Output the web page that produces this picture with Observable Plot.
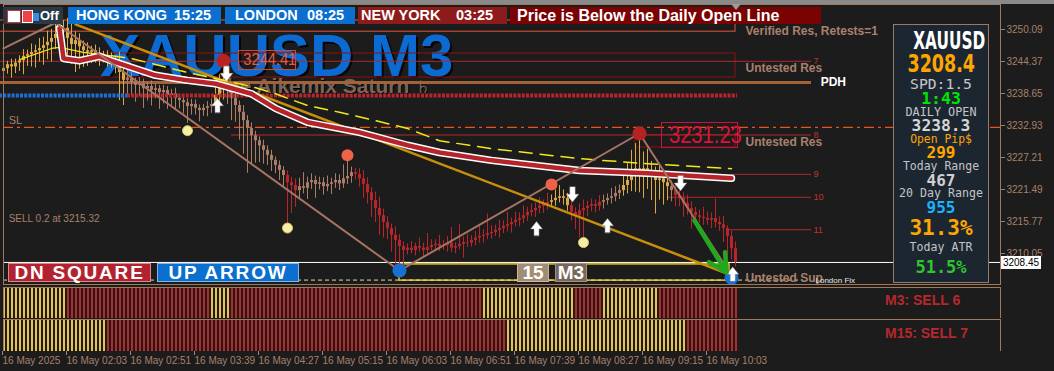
<!DOCTYPE html>
<html><head><meta charset="utf-8">
<script src="https://cdn.jsdelivr.net/npm/d3@7"></script>
<script src="https://cdn.jsdelivr.net/npm/@observablehq/plot@0.6"></script>
<style>
html,body{margin:0;padding:0;background:#1c1c1c;}
#wrap{position:relative;width:1054px;height:371px;background:#1c1c1c;overflow:hidden;font-family:"Liberation Sans",Arial,sans-serif;}
.o{position:absolute;white-space:pre;box-sizing:border-box;}
.sx{display:inline-block;transform-origin:center;}
</style></head><body><div id="wrap"></div><script>
// ---------------- DATA ----------------
const closes = [
3243.1,3243.8,3243.4,3244.1,3244.5,3245.3,3245.6,3246.0,3246.3,3246.7,
3247.2,3247.8,3248.5,3249.2,3249.9,3250.3,3248.5,3247.4,3248.1,3247.0,
3246.3,3246.0,3246.3,3245.6,3245.3,3245.4,3244.9,3244.2,3244.5,3242.4,
3241.0,3241.4,3240.6,3240.1,3240.3,3239.5,3239.9,3239.2,3239.5,3238.8,
3239.2,3238.3,3238.6,3237.8,3237.4,3237.0,3236.3,3236.7,3236.0,3235.6,
3236.0,3236.3,3236.7,3238.3,3239.5,3240.6,3239.2,3237.8,3236.5,3235.3,
3233.8,3232.4,3231.1,3230.2,3229.3,3228.5,3227.6,3226.7,3225.8,3224.9,
3224.0,3222.7,3222.2,3221.3,3222.0,3221.7,3222.7,3223.1,3222.4,3222.7,
3222.0,3222.4,3222.7,3223.1,3222.5,3223.4,3223.8,3224.5,3224.2,3223.4,
3222.4,3220.9,3219.5,3218.1,3216.8,3215.6,3214.5,3213.3,3212.4,3211.3,
3210.6,3211.0,3210.6,3211.3,3211.0,3210.6,3211.1,3211.5,3211.7,3211.3,
3211.5,3211.9,3211.0,3211.3,3211.7,3212.0,3211.9,3212.4,3212.8,3213.1,
3213.3,3213.6,3213.8,3214.2,3214.5,3214.9,3215.2,3215.6,3216.0,3216.3,
3216.8,3217.4,3217.7,3218.1,3218.5,3218.8,3219.2,3219.5,3219.9,3220.2,
3219.9,3218.6,3217.4,3216.8,3217.7,3218.1,3218.5,3218.8,3218.5,3219.2,
3219.5,3219.9,3220.2,3220.8,3221.3,3222.2,3223.1,3224.5,3225.2,3224.9,
3225.2,3224.5,3224.0,3223.1,3223.4,3222.7,3222.0,3221.3,3220.4,3219.9,
3219.0,3218.1,3217.4,3216.8,3216.5,3216.3,3216.0,3216.3,3215.6,3215.2,
3214.5,3213.1,3210.9,3208.45
];
const firstOpen = 3242.6;
const upWick = [
0.8,0.6,1.0,0.7,0.9,1.2,0.8,1.5,1.0,1.8,1.5,2.0,1.6,1.8,1.6,1.4,1.8,2.5,1.6,1.2,1.0,1.4,0.8,1.0,1.2,0.8,0.9,1.0,0.8,1.5,2.0,
2.5,1.0,0.8,1.2,0.9,0.7,1.0,0.8,0.6,0.9,0.7,0.8,1.0,0.6,0.8,0.7,0.9,0.8,0.6,0.7,0.9,1.0,
1.5,2.5,4.0,
2.0,1.5,1.0,0.8,1.2,0.9,1.0,0.8,0.7,1.0,0.8,0.9,0.6,0.8,0.7,
0.8,1.0,1.2,
1.5,2.5,1.0,1.2,0.8,1.0,0.9,1.5,0.8,1.2,1.0,2.5,2.9,1.0,
0.8,1.0,1.5,1.2,0.9,1.5,2.0,1.2,1.0,0.8,1.5,1.0,0.8,
0.8,1.2,0.6,1.5,0.9,2.5,1.0,0.8,1.6,0.9,1.2,2.8,0.7,3.5,1.0,1.5,0.8,1.2,2.0,1.0,3.5,1.2,0.9,1.5,1.0,2.2,0.8,1.4,1.0,1.8,0.9,1.2,1.0,1.5,0.8,1.6,
1.0,1.5,2.0,1.2,0.9,
1.0,0.8,1.2,1.5,0.9,1.0,0.8,1.2,
1.0,0.8,1.5,1.2,1.0,
2.0,3.0,4.0,4.5,6.0,3.0,3.5,2.0,1.5,2.5,1.5,1.0,
1.0,
1.2,0.8,1.0,1.5,1.2,0.9,1.0,1.8,1.2,1.0,3.5,1.0,1.5,0.5,1.0,1.2
];
const dnWick = [
1.5,1.0,2.0,1.2,1.5,2.5,1.8,2.2,2.8,2.0,3.0,2.5,3.5,2.0,2.5,2.8,4.5,3.5,5.0,4.0,3.0,2.5,2.0,1.5,1.8,1.2,1.5,1.0,2.0,5.0,4.5,
3.0,2.5,3.0,2.0,3.5,2.2,2.8,1.5,3.0,2.0,2.5,1.8,2.2,1.5,2.0,3.0,1.5,1.2,2.0,1.0,1.5,1.2,
1.0,1.5,2.0,
2.5,4.0,3.0,5.0,6.0,8.0,5.0,4.0,3.0,2.5,1.8,2.0,1.5,1.8,2.0,
7.4,5.0,3.0,
1.5,1.0,2.0,1.2,2.5,1.0,1.5,0.9,1.8,1.0,1.2,0.8,1.0,1.2,
1.0,1.5,2.5,2.0,3.0,2.5,3.5,2.8,2.0,3.0,4.5,4.0,3.2,
0.8,0.6,1.0,0.7,1.2,0.8,0.6,1.0,0.9,0.7,1.2,0.8,1.0,0.6,2.5,0.8,0.7,1.0,0.9,1.2,0.8,1.0,0.7,1.4,0.9,1.0,1.5,0.8,1.2,0.9,1.0,0.8,1.2,0.9,1.3,1.0,
0.8,1.0,0.8,1.2,1.0,
1.5,2.5,4.0,5.0,1.5,1.0,1.2,0.9,
1.2,0.8,1.0,0.9,1.1,
1.0,1.5,2.0,3.5,4.0,5.0,3.0,4.5,6.0,3.5,4.0,2.5,
2.0,
2.0,1.5,2.5,1.2,3.0,1.5,1.0,1.2,0.9,1.5,1.0,1.2,2.5,4.0,2.0,0.8
];
const candleSegStart = [0,31,53,56,71,74,88,137,142,150,155,167,168];
const candleSegKind  = ["gold","tan","gold","tan","red","tan","red","gold","red","tan","gold","tan","red"];

const priceTicks = [3250.09,3244.37,3238.65,3232.93,3227.21,3221.49,3215.77,3210.05];
const timeTickIdx = [0,16,32,48,64,80,96,112,128,144,160,176];
const timeLabels = ["16 May 2025","16 May 02:03","16 May 02:51","16 May 03:39","16 May 04:27","16 May 05:15","16 May 06:03","16 May 06:51","16 May 07:39","16 May 08:27","16 May 09:15","16 May 10:03"];

const maRedIdx = [14,15,19,24,27,38,46,53,62,68,76,89,101,109,122,144,161,182];
const maRedVal = [3250.3,3244.9,3244.5,3245.3,3244.5,3241.9,3241.0,3240.4,3238.6,3236.0,3233.5,3231.7,3229.4,3228.1,3226.7,3224.9,3224.4,3223.5];
const maYelIdx = [4,12,14,20,27,32,46,62,68,76,84,93,101,109,122,144,161,182];
const maYelVal = [3244.7,3246.7,3246.9,3246.0,3245.4,3244.9,3242.4,3239.9,3238.6,3236.5,3235.3,3233.8,3232.4,3230.2,3228.8,3227.0,3226.1,3225.2];
const zzIdx = [0,13,99,159,182];
const zzVal = [3246.7,3251.3,3207.0,3231.5,3206.1];
const trendIdx = [18,183];
const trendVal = [3251.0,3205.9];

const zoneKind   = ["verified","untested","untested","support"];
const zoneTop    = [3251.7,3245.8,3231.23,3208.1];
const zoneBottom = [3249.7,3241.5,3229.0,3205.2];
const zoneFrom   = [-1,-1,158,99];
const zoneTo     = [183,183,183,181.5];
const zoneLabel  = ["Verified Res, Retests=1","Untested Res","Untested Res","Untested Sup"];
const zoneLabelPrice = [3249.8,3243.1,3229.9,3205.7];

const levelName  = ["7","8","9","10","11"];
const levelPrice = [3244.41,3231.23,3224.2,3220.1,3214.3];
const levelFrom  = [-1,57,182,166,181];
const levelTo    = 202;

const pdh = 3240.6, dailyOpen = 3238.3, openSplit = 31, stopLoss = 3232.6, bid = 3208.45, sellEntry = 3215.32, fixLine = 3205.3;

const yellowDotIdx = [46,71,145], yellowDotVal = [3232.0,3214.6,3212.0];
const salmonDotIdx = [86,137], salmonDotVal = [3227.6,3222.4];
const redDotIdx = [55,159], redDotVal = [3244.5,3231.5];
const blueDotIdx = [99,182], blueDotVal = [3207.0,3205.7];
const downArrIdx = [55.75,142.25,169.25], downArrVal = [3242.2,3220.6,3222.6];
const upArrIdx = [53.5,133.25,151,182.3], upArrVal = [3236.5,3214.5,3215.05,3206.4];
const greenArrow = {i1:172.75, p1:3215.95, i2:180.75, p2:3206.65};

const m3SegStart = [0,16,52,57,120,143,150,164], m3SegKind = ["g","r","g","r","g","r","g","r"];
const m15SegStart = [0,26,126,171], m15SegKind = ["g","r","g","r"];

const infoText = ["XAUUSD","3208.4","SPD:1.5","1:43","DAILY OPEN","3238.3","Open Pip$","299","Today Range","467","20 Day Range","955","31.3%","Today ATR","51.5%"];
const sessions = [["HONG KONG","15:25"],["LONDON","08:25"],["NEW YORK","03:25"]];

// ---------------- BUILD ----------------
const wrap = document.getElementById("wrap");
function el(html, css){ const d=document.createElement("div"); d.className="o"; d.innerHTML=html; Object.assign(d.style, css); wrap.appendChild(d); return d; }
const segKind = (starts, kinds, i) => { let k = kinds[0]; for (let s=0;s<starts.length;s++) if (i>=starts[s]) k = kinds[s]; return k; };
const N = closes.length;
const bars = closes.map((c,i)=>{ const o = i===0 ? firstOpen : closes[i-1];
  return {i, o, c, h: Math.max(o,c)+(upWick[i] ?? 0.8), l: Math.min(o,c)-(dnWick[i] ?? 0.8), k: segKind(candleSegStart,candleSegKind,i)}; });
const candleColor = {gold:"#d9aa46", tan:"#a97d67", red:"#b8262c"};
const pts = (idx,val) => idx.map((d,j)=>({x:d,y:val[j]}));
const X = {type:"linear", domain:[0,183], range:[3,735]};
const tan = "#a8806a";

const zones = zoneKind.map((k,j)=>({k, top:zoneTop[j], bot:zoneBottom[j], from:zoneFrom[j], to:zoneTo[j], label:zoneLabel[j], lp:zoneLabelPrice[j]}));
const zoneStroke = {verified:"#e0573a", untested:"#8e1010", support:"#e8c41a"};
const levels = levelName.map((n,j)=>({n, p:levelPrice[j], from:levelFrom[j], to:levelTo}));
const fatArrow = {draw(ctx,l){ const w=l*0.42, s=w*0.42, hh=l*0.48;
  ctx.moveTo(-s,0); ctx.lineTo(-s,-hh); ctx.lineTo(-w,-hh); ctx.lineTo(0,-l); ctx.lineTo(w,-hh); ctx.lineTo(s,-hh); ctx.lineTo(s,0); ctx.closePath(); }};

// watermark (behind chart objects)
el("XAUUSD M3", {left:"100px", top:"26px", fontSize:"60px", lineHeight:"60px", fontWeight:"bold", color:"#0b6bd3", textShadow:"2px 2px 0 #050505", zIndex:1});
el('The Aikemix Saturn <span style="font-family:\'DejaVu Sans\';font-weight:normal;font-size:17px">♄</span>', {left:"214px", top:"75px", fontSize:"21px", lineHeight:"21px", fontWeight:"bold", color:"#7c6456", textShadow:"1px 1px 0 #000", zIndex:1});

const main = Plot.plot({
  width:1054, height:285, marginLeft:3, marginRight:54, marginTop:4, marginBottom:1,
  style:{background:"transparent", color:tan, fontFamily:"Liberation Sans, Arial, sans-serif", fontSize:"10px"},
  x:{...X, axis:null}, y:{domain:[3250.09,3210.05], range:[29,253], axis:null}, color:{type:"identity"},
  marks:[
    Plot.rect(zones, {x1:"from", x2:"to", y1:"top", y2:"bot", fill:"none", stroke:d=>zoneStroke[d.k], strokeWidth:d=>d.k==="support"?1.5:1}),
    Plot.ruleY([fixLine], {x1:0, x2:200, stroke:"#e6dc9a", strokeWidth:1, strokeDasharray:"4,3"}),
    Plot.ruleY(levels, {y:"p", x1:"from", x2:"to", stroke:"#b32a2a", strokeWidth:1}),
    Plot.ruleY([pdh], {x1:-1, x2:202, stroke:"#a4623a", strokeWidth:3}),
    Plot.ruleY([stopLoss], {stroke:"#e8541c", strokeWidth:1.2, strokeDasharray:"10,4,3,4"}),
    Plot.ruleY([bid], {stroke:"#ffffff", strokeWidth:1}),
    Plot.ruleX(bars, {x:"i", y1:"l", y2:"h", stroke:d=>candleColor[d.k], strokeWidth:1}),
    Plot.ruleX(bars, {x:"i", y1:"o", y2:"c", stroke:d=>candleColor[d.k], strokeWidth:3}),
    Plot.ruleY([{a:-1,b:openSplit,c:"#1c6fd6"},{a:openSplit,b:183.5,c:"#b8262c"}], {y:()=>dailyOpen, x1:"a", x2:"b", stroke:"c", strokeWidth:4, strokeDasharray:"3,1.2"}),
    Plot.line(pts(trendIdx,trendVal), {x:"x", y:"y", stroke:"#c98f0c", strokeWidth:2.5}),
    Plot.line(pts(maYelIdx,maYelVal).filter(d=>d.x<=27), {x:"x", y:"y", stroke:"#f2ea18", strokeWidth:1.2}),
    Plot.line(pts(maYelIdx,maYelVal).filter(d=>d.x>=27), {x:"x", y:"y", stroke:"#f2ea18", strokeWidth:1.5, strokeDasharray:"13,8"}),
    Plot.line(pts(maRedIdx,maRedVal), {x:"x", y:"y", stroke:"#ffffff", strokeWidth:7.5, strokeLinecap:"round"}),
    Plot.line(pts(maRedIdx,maRedVal), {x:"x", y:"y", stroke:"#b5232b", strokeWidth:4.5, strokeLinecap:"round"}),
    Plot.line(pts(zzIdx,zzVal), {x:"x", y:"y", stroke:"#a87462", strokeWidth:2}),
    Plot.dot(pts(yellowDotIdx,yellowDotVal), {x:"x", y:"y", r:5, fill:"#f7f0a4", stroke:"#d8c66a", strokeWidth:1}),
    Plot.dot(pts(salmonDotIdx,salmonDotVal), {x:"x", y:"y", r:6, fill:"#f0614a"}),
    Plot.dot(pts(redDotIdx,redDotVal), {x:"x", y:"y", r:7, fill:"#b52323"}),
    Plot.dot(pts(blueDotIdx,blueDotVal), {x:"x", y:"y", r:7, fill:"#1a6fd2"}),
    Plot.vector(pts(downArrIdx,downArrVal), {x:"x", y:"y", length:15, rotate:180, anchor:"middle", shape:fatArrow, fill:"#ffffff", stroke:"#9a9a9a", strokeWidth:0.5}),
    Plot.vector(pts(upArrIdx,upArrVal), {x:"x", y:"y", length:14, rotate:0, anchor:"middle", shape:fatArrow, fill:"#ffffff", stroke:"#9a9a9a", strokeWidth:0.5}),
    Plot.arrow([greenArrow], {x1:"i1", y1:"p1", x2:"i2", y2:"p2", stroke:"#20a81e", strokeWidth:4.5, headLength:18, headAngle:55}),
    Plot.text([stopLoss], {x:1.3, y:d=>d, text:()=>"SL", dy:-7, textAnchor:"start", fill:tan, fontSize:11}),
    Plot.text([sellEntry], {x:1.3, y:d=>d, text:d=>`SELL 0.2 at ${d.toFixed(2)}`, dy:-5.5, textAnchor:"start", fill:tan, fontSize:10}),
    Plot.text(zones, {x:185.5, y:"lp", text:"label", textAnchor:"start", fill:"#a9806c", fontSize:12, fontWeight:"bold"}),
    Plot.text(levels, {x:202.5, y:"p", text:"n", textAnchor:"start", fill:"#c23232", fontSize:9}),
    Plot.text([pdh], {x:204.3, y:d=>d, text:()=>"PDH", textAnchor:"start", fill:"#ffffff", fontSize:12, fontWeight:"bold"}),
    Plot.text([fixLine], {x:203, y:d=>d, text:()=>"London Fix", textAnchor:"start", fill:"#e8e8e8", fontSize:8}),
    Plot.axisY(priceTicks, {anchor:"right", tickSize:4, tickPadding:2, tickFormat:d=>d.toFixed(2), fontSize:10}),
    Plot.frame({stroke:"#a0785a"})
  ]
});
Object.assign(main.style, {position:"absolute", left:"0", top:"0", zIndex:2});
wrap.appendChild(main);

function panel(starts, kinds, top, h){
  const data = d3.range(N).map(i=>({i, k:segKind(starts,kinds,i)}));
  const p = Plot.plot({width:1054, height:h, marginLeft:3, marginRight:54, marginTop:0, marginBottom:0,
    style:{background:"transparent"}, x:{...X, axis:null}, color:{type:"identity"},
    marks:[Plot.ruleX(data, {x:"i", dx:0.5, stroke:d=>d.k==="g"?"#e8c24e":"#b42a2a", strokeWidth:2}), Plot.frame({stroke:"#a0785a"})]});
  Object.assign(p.style, {position:"absolute", left:"0", top:top+"px", zIndex:2});
  wrap.appendChild(p);
}
panel(m3SegStart, m3SegKind, 287, 31);
panel(m15SegStart, m15SegKind, 319, 32);

const tAxis = Plot.plot({width:1054, height:21, marginLeft:3, marginRight:54, marginTop:0, marginBottom:20,
  style:{background:"transparent", color:tan, fontFamily:"Liberation Sans, Arial, sans-serif", fontSize:"10px"}, x:{...X},
  marks:[Plot.axisX(timeTickIdx, {anchor:"bottom", tickSize:4, tickPadding:1, label:null, textAnchor:"start", dx:-1, tickFormat:d=>timeLabels[timeTickIdx.indexOf(d)]})]});
Object.assign(tAxis.style, {position:"absolute", left:"0", top:"350px", zIndex:2});
wrap.appendChild(tAxis);

// overlays
const Z = 3;
el("", {left:"0", top:"0", width:"1054px", height:"4px", background:"#8a8a8a", zIndex:Z});
el('<span style="position:absolute;left:4px;top:3px;width:12px;height:11px;background:#fff;border:1px solid #c33"></span><span style="position:absolute;left:19px;top:3px;width:9px;height:11px;background:#e44;border:1px solid #fff"></span><span style="position:absolute;left:30px;top:6px;width:6px;height:8px;background:#3a8de0"></span><span style="position:absolute;left:37px;top:0;font:bold 13px/17px \'Liberation Sans\';color:#fff">Off</span>',
  {left:"3px", top:"7px", width:"60px", height:"17px", background:"#2b3946", zIndex:Z});
const sesBox = [[68,153,"#0b6fcf",76,174],[225,130,"#0b6fcf",235,307],[358,149,"#8e1b1b",361,456]];
sessions.forEach(([n,t],j)=>{ const [l,w,bg,nl,tl] = sesBox[j];
  el("", {left:l+"px", top:"7px", width:w+"px", height:"17px", background:bg, zIndex:Z});
  el(n, {left:nl+"px", top:"7px", lineHeight:"17px", fontSize:"14.5px", fontWeight:"bold", color:"#fff", zIndex:Z});
  el(t, {left:tl+"px", top:"7px", lineHeight:"17px", fontSize:"14.5px", fontWeight:"bold", color:"#fff", zIndex:Z});
});
el("Price is Below the Daily Open Line", {left:"510px", top:"7px", width:"311px", height:"17px", background:"#7a0202", color:"#fff", fontWeight:"bold", fontSize:"16px", lineHeight:"17px", paddingLeft:"7px", zIndex:Z});
el("", {left:"731px", top:"4px", width:"0", height:"0", borderLeft:"5px solid transparent", borderRight:"5px solid transparent", borderTop:"6px solid #9a9a9a", zIndex:Z});

el('<span class="sx" style="transform:scaleX(.86)">3244.41</span>', {left:"238px", top:"50px", width:"58px", height:"20px", border:"1px solid #cf4a35", color:"#e25a45", fontSize:"17px", lineHeight:"18px", textAlign:"center", zIndex:Z});
el('<span class="sx" style="transform:scaleX(.84)">3231.23</span>', {left:"661px", top:"122px", width:"77px", height:"26px", border:"1px solid #c8143c", color:"#dc143c", fontSize:"24px", lineHeight:"24px", textAlign:"center", zIndex:Z});

el("DN SQUARE", {left:"8px", top:"263px", width:"143px", height:"19px", background:"#b2232f", border:"1px solid #d78a8a", color:"#fff", fontWeight:"bold", fontSize:"19px", lineHeight:"17px", letterSpacing:"1.8px", textAlign:"center", zIndex:Z});
el("UP ARROW", {left:"157px", top:"263px", width:"142px", height:"19px", background:"#0b6fcf", border:"1px solid #8ab4e0", color:"#fff", fontWeight:"bold", fontSize:"19px", lineHeight:"17px", letterSpacing:"1.8px", textAlign:"center", zIndex:Z});
el("15", {left:"517px", top:"263px", width:"32px", height:"19px", background:"#a28c72", border:"1px solid #c8b8a0", color:"#fff", fontWeight:"bold", fontSize:"19px", lineHeight:"17px", textAlign:"center", zIndex:Z});
el("M3", {left:"555px", top:"263px", width:"32px", height:"19px", background:"#77685a", border:"1px solid #a09080", color:"#fff", fontWeight:"bold", fontSize:"19px", lineHeight:"17px", textAlign:"center", zIndex:Z});

el("3208.45", {left:"1001px", top:"256px", width:"40px", height:"13px", background:"#fff", color:"#000", fontSize:"10px", lineHeight:"13px", textAlign:"center", zIndex:Z});

el("M3: SELL 6", {left:"885px", top:"293px", fontSize:"14px", lineHeight:"14px", fontWeight:"bold", color:"#b5282c", zIndex:Z});
el("M15: SELL 7", {left:"885px", top:"326px", fontSize:"14px", lineHeight:"14px", fontWeight:"bold", color:"#b5282c", zIndex:Z});

// info panel
el("", {left:"893px", top:"24px", width:"96px", height:"259px", background:"#1b2631", border:"1px solid #9a7a66", zIndex:Z});
const mono = "'DejaVu Sans Mono', monospace";
const infoStyle = [
  [41, 24, "bold", "'DejaVu Sans'", "#ffffff", 0.64],
  [64, 25, "bold", "'DejaVu Sans'", "#ffa500", 0.70],
  [84, 14.7, "normal", mono, "#c8c8c8", 1],
  [98.5, 16.5, "bold", mono, "#00e600", 1],
  [112, 11.8, "normal", mono, "#c4c4c4", 1],
  [125, 16.3, "bold", mono, "#d6d6d6", 1],
  [139, 11.4, "normal", mono, "#ffa500", 1],
  [152.5, 16, "bold", mono, "#ffa500", 1],
  [166, 11.5, "normal", mono, "#c4c4c4", 1],
  [180, 16, "bold", mono, "#d0d0d0", 1],
  [193, 11.6, "normal", mono, "#c4c4c4", 1],
  [207, 16, "bold", mono, "#19b2ff", 1],
  [228, 21, "bold", mono, "#ffa500", 1],
  [247.5, 11.6, "normal", mono, "#c4c4c4", 1],
  [266.5, 17, "bold", mono, "#2ec52e", 1]
];
infoText.forEach((t,j)=>{ const [cy,fs,fw,ff,col,sx] = infoStyle[j]; const lh = Math.round(fs*0.8);
  el(`<span class="sx" style="transform:scaleX(${sx})">${t}</span>`, {left:"893px", width:"96px", top:(cy-lh/2)+"px", height:lh+"px", lineHeight:lh+"px", textAlign:"center", fontSize:fs+"px", fontWeight:fw, fontFamily:ff, color:col, zIndex:Z+1});
});
</script></body></html>
